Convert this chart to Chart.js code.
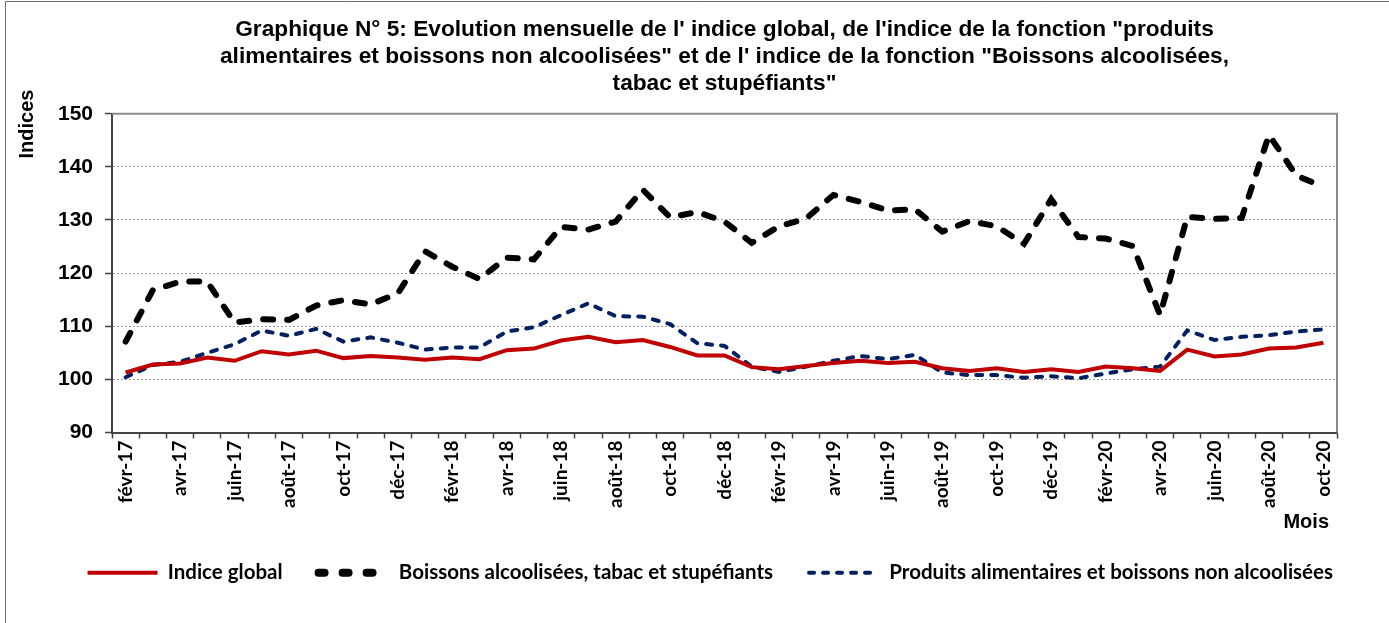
<!DOCTYPE html>
<html lang="fr">
<head>
<meta charset="utf-8">
<title>Graphique N° 5</title>
<script src="https://cdn.jsdelivr.net/npm/chart.js@4.4.0/dist/chart.umd.min.js"></script>
<style>
    html, body { margin: 0; padding: 0; background: #fff; }
    #wrap { width: 1389px; height: 623px; }
</style>
</head>
<body>
<div id="wrap"><canvas id="indicesChart" width="1389" height="623"></canvas></div>
<script>
// mois de févr-17 à oct-20
const months = [
    'févr-17', 'mars-17', 'avr-17', 'mai-17', 'juin-17', 'juil-17', 'août-17', 'sept-17', 'oct-17', 'nov-17', 'déc-17',
    'janv-18', 'févr-18', 'mars-18', 'avr-18', 'mai-18', 'juin-18', 'juil-18', 'août-18', 'sept-18', 'oct-18', 'nov-18', 'déc-18',
    'janv-19', 'févr-19', 'mars-19', 'avr-19', 'mai-19', 'juin-19', 'juil-19', 'août-19', 'sept-19', 'oct-19', 'nov-19', 'déc-19',
    'janv-20', 'févr-20', 'mars-20', 'avr-20', 'mai-20', 'juin-20', 'juil-20', 'août-20', 'sept-20', 'oct-20'
];

const indiceGlobal = [
    101.3, 102.8, 103.0, 104.1, 103.5, 105.3, 104.7, 105.4, 104.0, 104.4, 104.1,
    103.7, 104.1, 103.8, 105.5, 105.8, 107.3, 108.0, 107.0, 107.4, 106.1, 104.5, 104.5,
    102.3, 101.9, 102.5, 103.1, 103.5, 103.1, 103.3, 102.1, 101.6, 102.1, 101.4, 101.9,
    101.4, 102.4, 102.1, 101.6, 105.6, 104.3, 104.7, 105.8, 106.0, 106.9
];

const boissonsAlcoolisees = [
    107.1, 116.8, 118.4, 118.4, 110.7, 111.3, 111.2, 113.9, 114.9, 114.1, 116.2,
    124.1, 121.2, 118.9, 122.9, 122.6, 128.7, 128.2, 129.7, 135.7, 130.5, 131.5, 129.7,
    125.7, 128.8, 130.3, 134.7, 133.4, 131.8, 132.0, 127.8, 129.8, 128.8, 125.5, 133.9,
    126.8, 126.5, 125.1, 112.1, 130.6, 130.2, 130.4, 146.0, 138.4, 136.2
];

const produitsAlimentaires = [
    100.4, 102.7, 103.3, 105.0, 106.6, 109.2, 108.2, 109.5, 107.1, 107.9, 106.9,
    105.6, 106.0, 106.0, 109.0, 109.8, 112.1, 114.3, 111.9, 111.8, 110.4, 106.8, 106.3,
    102.4, 101.4, 102.4, 103.5, 104.4, 103.8, 104.6, 101.3, 100.8, 100.8, 100.3, 100.6,
    100.2, 101.1, 101.9, 102.4, 109.2, 107.4, 108.0, 108.3, 109.0, 109.4
];

const yMin = 90;
const yMax = 150;
const yStep = 10;

const titleLines = [
    'Graphique N° 5: Evolution mensuelle de l\' indice global, de l\'indice de la fonction "produits',
    'alimentaires et boissons non alcoolisées" et de l\' indice de la fonction "Boissons alcoolisées,',
    'tabac et stupéfiants"'
];

// traits de la légende (plus épais que dans le graphique)
const legendStyles = [
    { width: 4, dash: [], cap: 'butt' },
    { width: 8, dash: [6, 18], cap: 'round' },
    { width: 4, dash: [5, 9], cap: 'round' }
];

// cadre de la page, bordure de la zone de tracé et titres d'axes
const framePlugin = {
    id: 'frame',
    beforeDraw(chart) {
        const ctx = chart.ctx;
        ctx.save();
        ctx.fillStyle = '#fff';
        ctx.fillRect(0, 0, chart.width, chart.height);
        ctx.strokeStyle = '#6e6e6e';
        ctx.lineWidth = 1;
        ctx.beginPath();
        ctx.moveTo(5.5, chart.height);
        ctx.lineTo(5.5, 1.5);
        ctx.lineTo(chart.width, 1.5);
        ctx.stroke();
        ctx.restore();
    },
    beforeDatasetsDraw(chart) {
        const { ctx, chartArea: a } = chart;
        ctx.save();
        ctx.strokeStyle = '#8c8c8c';
        ctx.lineWidth = 2;
        ctx.beginPath();
        ctx.moveTo(a.left, a.top);
        ctx.lineTo(a.right, a.top);
        ctx.lineTo(a.right, a.bottom);
        ctx.stroke();
        ctx.restore();
    },
    afterDraw(chart) {
        const ctx = chart.ctx;
        ctx.save();
        ctx.fillStyle = '#000';
        ctx.font = 'bold 20px "Liberation Sans", Arial, sans-serif';
        ctx.textBaseline = 'middle';
        ctx.textAlign = 'center';
        ctx.translate(27, 124);
        ctx.rotate(-Math.PI / 2);
        ctx.fillText('Indices', 0, 0);
        ctx.restore();

        ctx.save();
        ctx.fillStyle = '#000';
        ctx.font = 'bold 20px "Liberation Sans", Arial, sans-serif';
        ctx.textBaseline = 'middle';
        ctx.textAlign = 'right';
        ctx.fillText('Mois', 1329, 522);
        ctx.restore();
    }
};

const ctx = document.getElementById('indicesChart').getContext('2d');

new Chart(ctx, {
    type: 'line',
    data: {
        labels: months,
        datasets: [
            {
                label: 'Indice global',
                data: indiceGlobal,
                borderColor: '#c00000',
                backgroundColor: '#c00000',
                borderWidth: 4,
                pointRadius: 0,
                tension: 0
            },
            {
                label: 'Boissons alcoolisées, tabac et stupéfiants',
                data: boissonsAlcoolisees,
                borderColor: '#000000',
                backgroundColor: '#000000',
                borderWidth: 6,
                borderDash: [10, 14],
                borderCapStyle: 'round',
                pointRadius: 0,
                tension: 0
            },
            {
                label: 'Produits alimentaires et boissons non alcoolisées',
                data: produitsAlimentaires,
                borderColor: '#002060',
                backgroundColor: '#002060',
                borderWidth: 4,
                borderDash: [6, 9],
                borderCapStyle: 'round',
                pointRadius: 0,
                tension: 0
            }
        ]
    },
    options: {
        responsive: false,
        animation: false,
        layout: { padding: { top: 0, left: 0, right: 20, bottom: 30 } },
        plugins: {
            tooltip: { enabled: false },
            title: {
                display: true,
                text: titleLines,
                fullSize: false,
                color: '#000',
                font: { family: '"Liberation Sans", Arial, sans-serif', size: 22.7, weight: 'bold', lineHeight: 1.2 },
                padding: { top: 16, bottom: 16 }
            },
            legend: {
                position: 'bottom',
                align: 'end',
                labels: {
                    usePointStyle: true,
                    pointStyle: 'line',
                    pointStyleWidth: 70,
                    boxWidth: 70,
                    boxHeight: 10,
                    padding: 36,
                    color: '#000',
                    font: { family: 'Lato, "Noto Sans", sans-serif', size: 20.5, weight: 'bold' },
                    generateLabels: (chart) => {
                        const items = Chart.defaults.plugins.legend.labels.generateLabels(chart);
                        items.forEach((item, i) => {
                            const s = legendStyles[item.datasetIndex] || legendStyles[i];
                            item.lineWidth = s.width;
                            item.lineDash = s.dash;
                            item.lineCap = s.cap;
                            item.strokeStyle = chart.data.datasets[item.datasetIndex].borderColor;
                        });
                        return items;
                    }
                }
            }
        },
        scales: {
            x: {
                offset: true,
                afterFit: (scale) => { scale.height = 94; },
                grid: {
                    offset: true,
                    drawOnChartArea: false,
                    drawTicks: true,
                    tickLength: 6,
                    tickColor: '#444',
                    tickWidth: 1.5
                },
                border: { display: true, color: '#444', width: 2 },
                ticks: {
                    autoSkip: false,
                    maxRotation: 90,
                    minRotation: 90,
                    padding: 2,
                    color: '#000',
                    font: { family: 'Lato, "Noto Sans", sans-serif', size: 19, weight: 'bold' },
                    callback: (value, index) => (index % 2 === 0 ? months[index] : '')
                }
            },
            y: {
                min: yMin,
                max: yMax,
                afterFit: (scale) => { scale.width = 112; },
                grid: {
                    color: '#9a9a9a',
                    lineWidth: 1,
                    drawTicks: true,
                    tickLength: 7,
                    tickColor: '#444',
                    tickWidth: 1.5,
                    tickBorderDash: []
                },
                border: { display: true, color: '#444', width: 2, dash: [2, 2] },
                ticks: {
                    stepSize: yStep,
                    padding: 12,
                    color: '#000',
                    font: { family: '"Liberation Sans", Arial, sans-serif', size: 21, weight: 'bold' }
                }
            },
            // axe vide à droite : réserve la marge droite de la zone de tracé
            yRight: {
                position: 'right',
                min: yMin,
                max: yMax,
                afterFit: (scale) => { scale.width = 32; },
                grid: { display: false, drawOnChartArea: false },
                border: { display: false },
                ticks: { display: false }
            }
        }
    },
    plugins: [framePlugin]
});
</script>
</body>
</html>
